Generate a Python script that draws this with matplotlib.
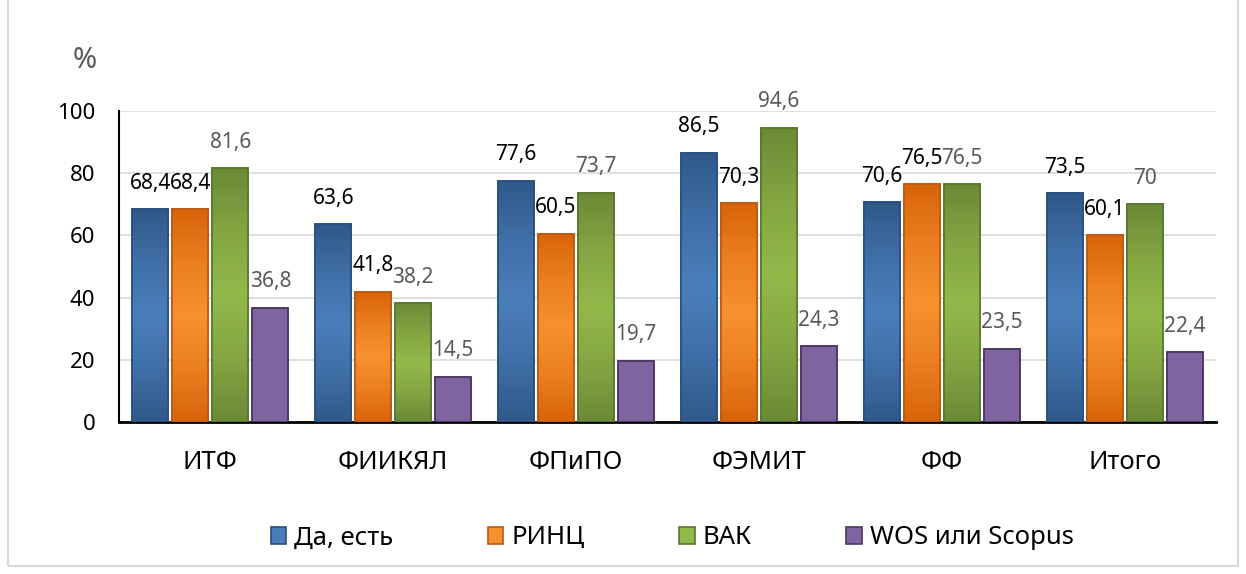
import numpy as np
import matplotlib
matplotlib.use('Agg')
import matplotlib.pyplot as plt
from matplotlib.colors import LinearSegmentedColormap
from matplotlib.patches import Rectangle

plt.rcParams['font.family'] = ['Noto Sans', 'DejaVu Sans']

categories = ['ИТФ', 'ФИИКЯЛ', 'ФПиПО', 'ФЭМИТ', 'ФФ', 'Итого']
series_names = ['Да, есть', 'РИНЦ', 'ВАК', 'WOS или Scopus']
da_est = [68.4, 63.6, 77.6, 86.5, 70.6, 73.5]
rinc = [68.4, 41.8, 60.5, 70.3, 76.5, 60.1]
vak = [81.6, 38.2, 73.7, 94.6, 76.5, 70]
wos = [36.8, 14.5, 19.7, 24.3, 23.5, 22.4]
values = [da_est, rinc, vak, wos]

# (dark, light, edge) per series
colors = [('#30598a', '#4a7ebb', '#2a4f7c'),
          ('#d9640a', '#f7902f', '#b85a12'),
          ('#6b8a36', '#93b84a', '#5a7530'),
          ('#8064a2', '#8064a2', '#4b3a63')]
label_colors = ['#000000', '#000000', '#595959', '#595959']

fig = plt.figure(figsize=(12.46, 5.74), dpi=100)
ax = fig.add_axes([119 / 1246, 1 - 422 / 574, (1216 - 119) / 1246, (422 - 111) / 574])

x = np.arange(len(categories))
slot = 40 / 182.8
width = 36 / 182.8
grad = np.interp(np.linspace(0, 4, 100), np.arange(5), [0, 0.6, 1, 0.6, 0]).reshape(-1, 1)

for i, (vals, name) in enumerate(zip(values, series_names)):
    dark, light, edge = colors[i]
    cmap = LinearSegmentedColormap.from_list('g%d' % i, [dark, light])
    pos = x + (i - 1.5) * slot
    bars = ax.bar(pos, vals, width, color=light, edgecolor=edge, linewidth=1.2,
                  label=name, zorder=3)
    for b in bars:
        if i < 3:
            im = ax.imshow(grad, cmap=cmap, aspect='auto', zorder=3.5,
                           extent=[b.get_x(), b.get_x() + b.get_width(), 0, b.get_height()])
            im.set_clip_path(b)
        ax.add_patch(Rectangle((b.get_x(), 0), b.get_width(), b.get_height(),
                               fill=False, edgecolor=edge, linewidth=1.2, zorder=4))
    for p, v in zip(pos, vals):
        txt = ('%g' % v).replace('.', ',')
        ax.text(p, v + 5, txt, ha='center', va='bottom', fontsize=15,
                color=label_colors[i], zorder=5)

ax.set_xlim(-0.5, len(categories) - 0.5)
ax.set_ylim(0, 100)
ax.set_yticks(range(0, 101, 20))
ax.set_xticks(x)
ax.set_xticklabels(categories, fontsize=18.5)
ax.tick_params(axis='x', length=0, pad=20)
ax.tick_params(axis='y', length=0, pad=17, labelsize=16)
ax.grid(axis='y', color='#d9d9d9', linewidth=1.2, zorder=0)
ax.set_axisbelow(True)
for s in ['top', 'right']:
    ax.spines[s].set_visible(False)
ax.spines['left'].set_linewidth(1.5)
ax.spines['bottom'].set_linewidth(2)

fig.text(85 / 1246, 1 - 60 / 574, '%', ha='center', va='center', fontsize=21, color='#595959')

leg = ax.legend(loc='center', bbox_to_anchor=(672 / 1246, 1 - 538 / 574),
                bbox_transform=fig.transFigure, ncol=4, frameon=False, fontsize=18.5,
                handlelength=0.6, handleheight=0.6, columnspacing=3.7, handletextpad=0.3)

fig.add_artist(Rectangle((8 / 1246, 8 / 574), 1230 / 1246, 1.2, transform=fig.transFigure,
                         fill=False, edgecolor='#d9d9d9', linewidth=1.5))

fig.savefig('out.png', dpi=100)
